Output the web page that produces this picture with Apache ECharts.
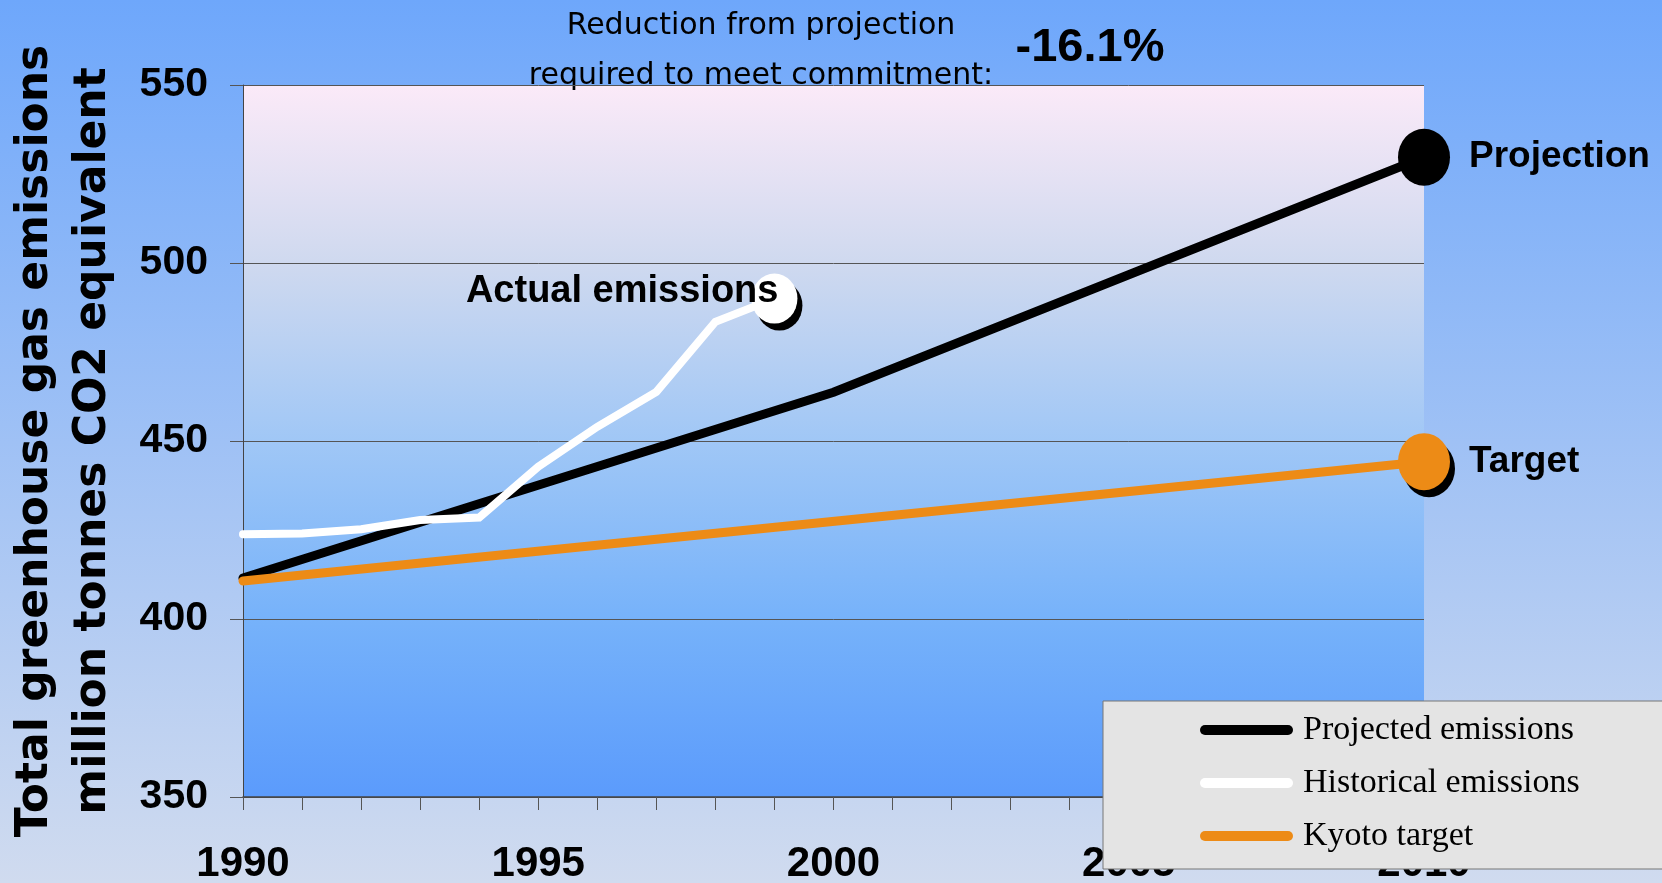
<!DOCTYPE html>
<html>
<head>
<meta charset="utf-8">
<script src="https://cdn.jsdelivr.net/npm/echarts@6/dist/echarts.min.js"></script>
<style>
html,body{margin:0;padding:0;}
#chart{width:1662px;height:883px;}
</style>
</head>
<body>
<div id="chart"></div>
<script>
// ---- data ----
const histYears = [1990, 1991, 1992, 1993, 1994, 1995, 1996, 1997, 1998, 1999];
const historical = [423.8, 424.0, 425.2, 427.8, 428.5, 442.8, 454.0, 463.8, 483.5, 490.0];
const projYears = [1990, 2000, 2010];
const projected = [411.5, 463.7, 529.7];
const targetYears = [1990, 2010];
const kyoto = [410.7, 444.2];
const seriesNames = ['Projected emissions', 'Historical emissions', 'Kyoto target'];
const endLabels = ['Projection', 'Actual emissions', 'Target'];
const yAxisTitle = 'Total greenhouse gas emissions\nmillion tonnes CO2 equivalent';
const noteLines = ['Reduction from projection', 'required to meet commitment:'];
const noteValue = '-16.1%';

const zip = (xs, ys) => xs.map((x, i) => [x, ys[i]]);
const last = (xs, ys) => [[xs[xs.length - 1], ys[ys.length - 1]]];

const BLACK = '#000000', WHITE = '#ffffff', ORANGE = '#ed8b16';

const chart = echarts.init(document.getElementById('chart'), null, {renderer: 'canvas'});

const lineSeries = (name, data, color, width) => ({
  name, type: 'line', data, symbol: 'none', silent: true,
  itemStyle: {color},
  lineStyle: {color, width, cap: 'round', join: 'miter'},
  emphasis: {disabled: true}
});

const markerSeries = (data, color, size, shadow, label) => ({
  type: 'scatter', data, symbol: 'circle', symbolSize: size, silent: true, z: 5,
  itemStyle: shadow
    ? {color, shadowColor: '#000', shadowBlur: 0, shadowOffsetX: 5, shadowOffsetY: 7, opacity: 1}
    : {color, opacity: 1},
  label: Object.assign({show: true, color: '#000', fontFamily: 'Liberation Sans', fontWeight: 'bold'}, label),
  emphasis: {disabled: true}
});

chart.setOption({
  animation: false,
  backgroundColor: new echarts.graphic.LinearGradient(0, 0, 0, 1, [
    {offset: 0, color: '#6ea7fb'},
    {offset: 1, color: '#d0dbef'}
  ]),
  grid: {
    left: 243, right: 238, top: 85, bottom: 86,
    outerBoundsMode: 'none', containLabel: false,
    show: true, borderWidth: 0,
    backgroundColor: new echarts.graphic.LinearGradient(0, 0, 0, 1, [
      {offset: 0, color: '#fbeaf8'},
      {offset: 0.25, color: '#cfd9ef'},
      {offset: 0.5, color: '#a0c7f6'},
      {offset: 0.75, color: '#76b2fa'},
      {offset: 1, color: '#5b9bfc'}
    ])
  },
  xAxis: {
    type: 'value', min: 1990, max: 2010, interval: 5,
    axisLine: {show: true, lineStyle: {color: '#444', width: 1.5}},
    axisTick: {show: true, length: 13, lineStyle: {color: '#555', width: 1}},
    minorTick: {show: true, splitNumber: 5, length: 13, lineStyle: {color: '#555', width: 1}},
    splitLine: {show: false},
    axisLabel: {
      margin: 46, color: '#000', fontFamily: 'Liberation Sans', fontWeight: 'bold', fontSize: 42,
      formatter: v => String(v)
    }
  },
  yAxis: {
    type: 'value', min: 350, max: 550, interval: 50,
    axisLine: {show: true, lineStyle: {color: '#444', width: 1}},
    axisTick: {show: true, length: 13, lineStyle: {color: '#555'}},
    splitLine: {show: true, lineStyle: {color: '#555', width: 1}},
    axisLabel: {margin: 35, color: '#000', fontFamily: 'Liberation Sans', fontWeight: 'bold', fontSize: 41},
    name: yAxisTitle,
    nameLocation: 'middle',
    nameGap: 120,
    nameTextStyle: {color: '#000', fontFamily: 'DejaVu Sans', fontWeight: 'bold', fontSize: 44, lineHeight: 58}
  },
  legend: {
    data: seriesNames,
    orient: 'vertical',
    left: 1103, top: 701,
    padding: [9, 90, 13, 97],
    backgroundColor: '#e4e4e4',
    borderColor: '#777', borderWidth: 1, borderRadius: 0,
    icon: 'path://M5,0 H88 A5,5 0 0 1 88,10 H5 A5,5 0 0 1 5,0 Z',
    itemWidth: 93, itemHeight: 10, itemGap: 13,
    selectedMode: false,
    textStyle: {color: '#000', fontFamily: 'Liberation Serif', fontSize: 34, lineHeight: 40, padding: [0, 0, 0, 5]}
  },
  graphic: [
    {type: 'text', x: 761, y: 26, silent: true,
     style: {text: noteLines[0], fill: '#000', font: '30px "DejaVu Sans"', align: 'center', verticalAlign: 'middle'}},
    {type: 'text', x: 761, y: 76, silent: true,
     style: {text: noteLines[1], fill: '#000', font: '30px "DejaVu Sans"', align: 'center', verticalAlign: 'middle'}},
    {type: 'text', x: 1090, y: 48, silent: true,
     style: {text: noteValue, fill: '#000', font: 'bold 47px "Liberation Sans"', align: 'center', verticalAlign: 'middle'}}
  ],
  series: [
    lineSeries(seriesNames[0], zip(projYears, projected), BLACK, 9),
    lineSeries(seriesNames[1], zip(histYears, historical), WHITE, 8),
    lineSeries(seriesNames[2], zip(targetYears, kyoto), ORANGE, 9),
    markerSeries(last(projYears, projected), BLACK, [52, 57], false,
      {formatter: endLabels[0], position: 'right', distance: 19, fontSize: 37}),
    markerSeries(last(histYears, historical), WHITE, [46, 50], true,
      {formatter: endLabels[1], position: [27, 18], align: 'right', verticalAlign: 'middle', fontSize: 38}),
    markerSeries(last(targetYears, kyoto), ORANGE, [52, 57], true,
      {formatter: endLabels[2], position: 'right', distance: 19, fontSize: 37})
  ]
});
</script>
</body>
</html>
